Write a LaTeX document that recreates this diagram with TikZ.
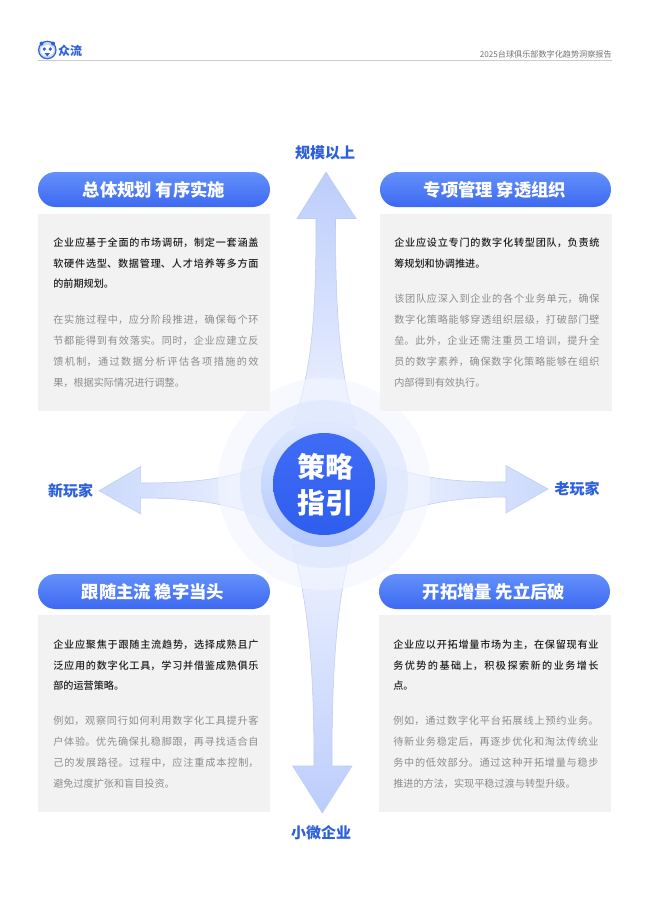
\documentclass[tikz,border=0pt]{standalone}
\usepackage{fontspec}
\setmainfont{Noto Sans CJK SC}
\newfontfamily\medfont{Noto Sans CJK SC Medium}
\usetikzlibrary{calc}
\XeTeXlinebreaklocale "zh"
\XeTeXlinebreakskip=0pt plus 3pt
\definecolor{pillblue}{HTML}{3D69F1}
\definecolor{pilllight}{HTML}{6390FB}
\definecolor{labelblue}{HTML}{2C5FDB}
\definecolor{boxgrey}{HTML}{F2F2F2}
\definecolor{softtext}{HTML}{8C8C8C}
\definecolor{headblue}{HTML}{BCCDFB}
\definecolor{sideblue}{HTML}{CBD9FC}
\definecolor{midblue}{HTML}{DCE6FE}
\definecolor{palearrow}{HTML}{EDF2FF}
\definecolor{arrowline}{HTML}{BCCCF4}
\definecolor{coreblue}{HTML}{3F6CF6}
\definecolor{coredeep}{HTML}{2F5DEE}
\tikzset{
	pill/.style={rounded corners=13pt, top color=pilllight, bottom color=pillblue, draw=none},
	pilltext/.style={text=white, font=\fontsize{13}{15}\selectfont\bfseries},
	greybox/.style={fill=boxgrey, draw=none},
	boldpara/.style={anchor=north west, inner sep=0pt, text width=154pt, align=justify, text=black!88, font=\fontsize{7.6}{15.3}\selectfont\medfont},
	softpara/.style={anchor=north west, inner sep=0pt, text width=154pt, align=justify, text=softtext, font=\fontsize{7.6}{15.7}\selectfont},
	sizelabel/.style={text=labelblue, font=\fontsize{11.25}{13}\selectfont\bfseries},
	bigarrow/.style={draw=arrowline, line width=0.4pt},
}
\def\brk{\linebreak}

\begin{document}
\begin{tikzpicture}[x=0.75pt, y=-0.75pt]
		%%%%% START %%%%%
		\useasboundingbox (0, 0) rectangle (650, 922);
		\fill[white] (0, 0) rectangle (650, 922);
		
		% header
		\draw[line width=0.5pt, color=black!20] (38, 60.5) -- (612, 60.5);
		\fill[color=labelblue] (47.3, 50) circle (9.3);
		\fill[color=white!75!labelblue] (47.3, 50) circle (8);
		\fill[color=labelblue] (41.5, 43.5) circle (2);
		\fill[color=labelblue] (53, 43.5) circle (2);
		\fill[color=white] (47.3, 50.5) ellipse (6.5 and 5.5);
		\fill[color=labelblue] (44.3, 49) circle (1.8);
		\fill[color=labelblue] (50.3, 49) circle (1.8);
		\fill[color=labelblue] (44.5, 53) -- (50, 53) -- (47.3, 56.5) -- cycle;
		\node[text=labelblue, font=\fontsize{9}{11}\selectfont\bfseries] (logotext) at (70, 51) {众流};
		\node[anchor=east, inner sep=0pt, text=black!55, font=\fontsize{6.1}{8}\selectfont] (reporttitle) at (612, 54) {2025台球俱乐部数字化趋势洞察报告};
		
		% arrows
		\shade[bigarrow, top color=headblue, middle color=midblue, bottom color=palearrow] (326, 172) -- (356, 218.5) -- (335.5, 218.5) .. controls (335.5, 300) and (338, 370) .. (356, 425) -- (292, 425) .. controls (314, 370) and (316, 300) .. (316, 218.5) -- (297, 218.5) -- cycle;
		\shade[bigarrow, bottom color=headblue, middle color=midblue, top color=palearrow] (322.3, 813) -- (352, 766) -- (332, 766) .. controls (332, 690) and (334, 610) .. (352, 545) -- (292, 545) .. controls (311, 610) and (314, 690) .. (314, 766) -- (292.7, 766) -- cycle;
		\shade[bigarrow, left color=sideblue, middle color=palearrow!60!midblue, right color=palearrow] (99, 490.7) -- (140.7, 466.5) -- (140.7, 483) .. controls (190, 483) and (230, 480) .. (270, 462) -- (270, 520) .. controls (230, 503) and (190, 498) .. (140.7, 498) -- (140.7, 514) -- cycle;
		\shade[bigarrow, right color=sideblue, middle color=midblue, left color=palearrow] (548, 489) -- (506, 465.5) -- (506, 482) .. controls (460, 482) and (420, 480) .. (380, 462) -- (380, 520) .. controls (420, 503) and (460, 497) .. (506, 497) -- (506, 513) -- cycle;
		
		% rings
		\fill[color=palearrow!70!white, fill opacity=0.6] (324, 484) circle (106);
		\fill[color=midblue, fill opacity=0.65] (324, 484) circle (84);
		\shade[top color=pilllight!20!white, bottom color=pilllight!50!white] (324, 484) circle (63);
		\shade[top color=coreblue, bottom color=coredeep] (324, 484) circle (51);
		\node[align=center, text=white, font=\fontsize{21}{27}\selectfont\bfseries] (strategy) at (325, 485) {策略\\指引};
		
		% labels
		\node[sizelabel] (sizetop) at (325, 153) {规模以上};
		\node[sizelabel] (sizeleft) at (70.5, 491) {新玩家};
		\node[sizelabel] (sizeright) at (577, 489) {老玩家};
		\node[sizelabel] (sizebottom) at (321, 833) {小微企业};
		
		% top left
		\draw[pill] (38, 172) rectangle (270, 207);
		\node[pilltext] (plantitle) at (154, 189.5) {总体规划 有序实施};
		\fill[greybox] (38, 214) rectangle (270, 411);
		\node[boldpara] (planbold) at (53, 238) {企业应基于全面的市场调研，制定一套涵盖\brk 软硬件选型、数据管理、人才培养等多方面\brk 的前期规划。};
		\node[softpara] (plansoft) at (53, 314.5) {在实施过程中，应分阶段推进，确保每个环\brk 节都能得到有效落实。同时，企业应建立反\brk 馈机制，通过数据分析评估各项措施的效\brk 果，根据实际情况进行调整。};
		
		% top right
		\draw[pill] (380, 172) rectangle (611, 207);
		\node[pilltext] (projtitle) at (495, 189.5) {专项管理 穿透组织};
		\fill[greybox] (380, 214) rectangle (612, 411);
		\node[boldpara] (projbold) at (394, 238) {企业应设立专门的数字化转型团队，负责统\brk 筹规划和协调推进。};
		\node[softpara] (projsoft) at (394, 294) {该团队应深入到企业的各个业务单元，确保\brk 数字化策略能够穿透组织层级，打破部门壁\brk 垒。此外，企业还需注重员工培训，提升全\brk 员的数字素养，确保数字化策略能够在组织\brk 内部得到有效执行。};
		
		% bottom left
		\draw[pill] (38, 574) rectangle (270, 609);
		\node[pilltext] (followtitle) at (153, 591.5) {跟随主流 稳字当头};
		\fill[greybox] (38, 615) rectangle (270, 812);
		\node[boldpara] (followbold) at (53, 640) {企业应聚焦于跟随主流趋势，选择成熟且广\brk 泛应用的数字化工具，学习并借鉴成熟俱乐\brk 部的运营策略。};
		\node[softpara] (followsoft) at (53, 716) {例如，观察同行如何利用数字化工具提升客\brk 户体验。优先确保扎稳脚跟，再寻找适合自\brk 己的发展路径。过程中，应注重成本控制，\brk 避免过度扩张和盲目投资。};
		
		% bottom right
		\draw[pill] (379, 574) rectangle (610, 609);
		\node[pilltext] (opentitle) at (494, 591.5) {开拓增量 先立后破};
		\fill[greybox] (379, 615) rectangle (611, 812);
		\node[boldpara] (openbold) at (393, 640) {企业应以开拓增量市场为主，在保留现有业\brk 务优势的基础上，积极探索新的业务增长\brk 点。};
		\node[softpara] (opensoft) at (393, 716) {例如，通过数字化平台拓展线上预约业务。\brk 待新业务稳定后，再逐步优化和淘汰传统业\brk 务中的低效部分。通过这种开拓增量与稳步\brk 推进的方法，实现平稳过渡与转型升级。};
		
		%%%%% END %%%%%
	\end{tikzpicture}
\end{document}
